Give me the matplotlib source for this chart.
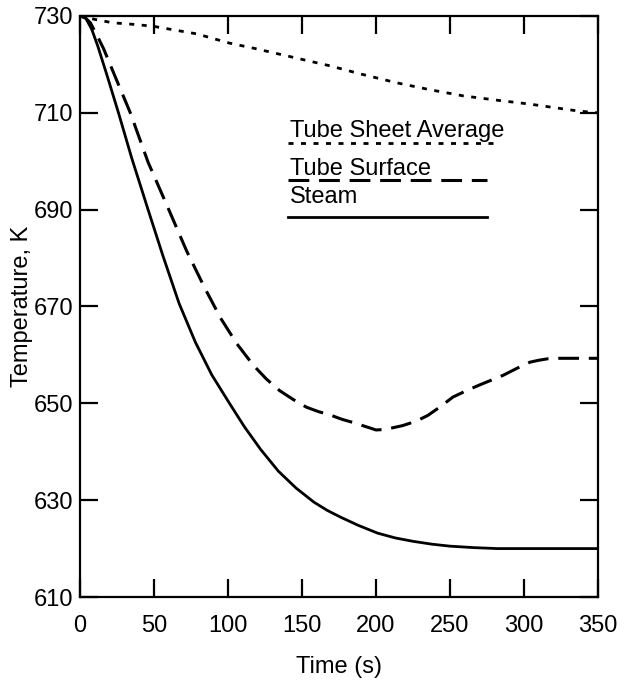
import matplotlib
matplotlib.use("Agg")
import matplotlib.pyplot as plt
from matplotlib.lines import Line2D

plt.rcParams['font.family'] = ['Liberation Sans', 'DejaVu Sans']

# Tube sheet average temperature (dotted)
sheet_t = [0, 10, 22, 35, 49, 64, 79, 101, 118, 135, 152, 169, 190, 214, 236, 259, 282, 304, 320, 336, 350]
sheet_T = [730, 729.3, 728.6, 728.3, 727.9, 727.1, 726.3, 724.4, 723.3, 722.1, 720.9, 719.7, 718.0, 716.2, 714.8, 713.5, 712.6, 711.8, 711.1, 710.4, 710.0]

# Tube surface temperature (dashed)
surf_t = [0, 3, 7, 11, 16, 24, 34, 46, 60, 72, 84, 95, 106, 117, 126, 135, 144, 153, 161, 169, 177, 185, 193, 200,
          206, 212, 218, 223, 229, 235, 243, 252, 261, 270, 278, 286, 295, 304, 310, 316, 323, 330, 340, 350]
surf_T = [730, 729.8, 728.6, 726.3, 723.2, 717.3, 710, 699.8, 690, 681.5, 674, 667.6, 662.3, 657.9, 655.0, 652.6, 650.8, 649.2, 648.3, 647.6, 646.7, 646.0, 645.2, 644.5,
          644.6, 645.0, 645.4, 645.9, 646.6, 647.5, 649.2, 651.3, 652.6, 653.8, 654.8, 655.8, 657.2, 658.5, 658.9, 659.2, 659.3, 659.3, 659.3, 659.3]

# Steam temperature (solid)
steam_t = [0, 4, 8, 12, 18, 26, 35, 46, 56, 67, 78, 89, 101, 111, 122, 134, 146, 158, 167, 176, 188, 201, 213, 225, 238, 250, 266, 282, 300, 320, 350]
steam_T = [730, 729.5, 727.2, 723.8, 718.0, 710, 700.6, 690, 680.5, 670.6, 662.6, 655.9, 650, 645.2, 640.5, 636.0, 632.5, 629.6, 627.9, 626.5, 624.8, 623.2, 622.2, 621.5, 620.9, 620.5, 620.2, 620.0, 620.0, 620.0, 620.0]

x_ticks = [0, 50, 100, 150, 200, 250, 300, 350]
y_ticks = [610, 630, 650, 670, 690, 710, 730]

legend_labels = ["Tube Sheet Average", "Tube Surface", "Steam"]

fig = plt.figure(figsize=(6.24, 6.85), dpi=100)
ax = fig.add_axes([80 / 624, 1 - 597 / 685, 518 / 624, 581 / 685])

dotted = dict(color='black', lw=2.0, linestyle=(0, (1.8, 2.7)), dash_capstyle='butt')
dashed = dict(color='black', lw=2.2, linestyle=(0, (6.8, 3.2)), dash_capstyle='butt')
solid = dict(color='black', lw=2.0, linestyle='-')

ax.plot(sheet_t, sheet_T, **dotted)
ax.plot(surf_t, surf_T, **dashed)
ax.plot(steam_t, steam_T, **solid)

ax.set_xlim(0, 350)
ax.set_ylim(610, 730)
ax.set_xticks(x_ticks)
ax.set_yticks(y_ticks)

for s in ax.spines.values():
    s.set_linewidth(1.6)

ax.tick_params(axis='both', which='major', direction='in', length=13, width=1.6,
               top=True, right=True, labelsize=17)
ax.tick_params(axis='x', pad=13)
ax.tick_params(axis='y', pad=5)

ax.set_xlabel("Time (s)", fontsize=17, labelpad=14)
ax.set_ylabel("Temperature, K", fontsize=17, labelpad=0)

# Legend: each label sits directly above a sample of its line style
text_x = 0.405
text_y = [0.792, 0.726, 0.678]
line_y = [0.781, 0.718, 0.654]
line_x1 = [0.800, 0.785, 0.785]
styles = [dotted, dashed, solid]
for lab, ty, ly, x1, st in zip(legend_labels, text_y, line_y, line_x1, styles):
    ax.text(text_x, ty, lab, transform=ax.transAxes, fontsize=17,
            ha='left', va='baseline')
    ax.add_line(Line2D([0.401, x1], [ly, ly], transform=ax.transAxes, **st))

fig.savefig("out.png", dpi=100)
